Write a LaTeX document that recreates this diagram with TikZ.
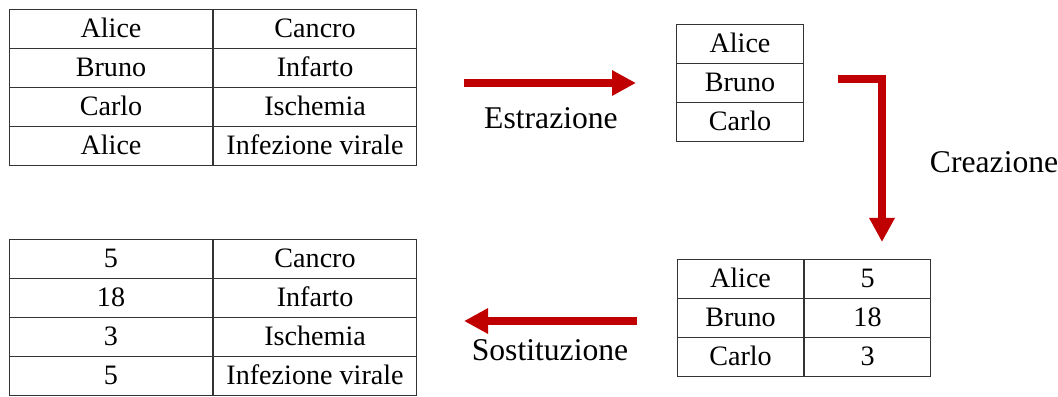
\documentclass[tikz,border=0pt]{standalone}
\usepackage{fontspec}
\setmainfont{Liberation Serif}
\usepackage{tikz}
\usetikzlibrary{arrows.meta, positioning}

\definecolor{rosso}{HTML}{C00000}

\begin{document}
\begin{tikzpicture}[x=0.025cm, y=-0.025cm,
        cella/.style={draw=black!80, line width=0.7pt, inner sep=0pt,
            minimum height=0.975cm, text height=0.5cm, text depth=0.09cm,
            font=\fontsize{20}{24}\selectfont},
        larga/.style={cella, minimum width=5.075cm},
        stretta/.style={cella, minimum width=3.15cm},
        freccia/.style={draw=rosso, line width=0.2cm,
            -{Triangle[length=0.6cm, width=0.6cm]}},
        etichetta/.style={font=\fontsize{22.5}{27}\selectfont}]
        \useasboundingbox (0,0) rectangle (1058,396);

        % Tabella originale
        \foreach \nome/\diagnosi [count=\i] in {Alice/Cancro, Bruno/Infarto, Carlo/Ischemia, Alice/Infezione virale} {
            \node[larga, anchor=north west] (orig\i) at (9,{9+39*(\i-1)}) {\nome};
            \node[larga, right=0pt of orig\i] (origd\i) {\diagnosi};
        }

        % Nomi estratti
        \foreach \nome [count=\i] in {Alice, Bruno, Carlo}
            \node[stretta, minimum width=3.175cm, anchor=north west] (nomi\i) at (676,{24+39*(\i-1)}) {\nome};

        % Tabella di corrispondenza
        \foreach \nome/\codice [count=\i] in {Alice/5, Bruno/18, Carlo/3} {
            \node[stretta, anchor=north west] (corr\i) at (677,{259+39*(\i-1)}) {\nome};
            \node[stretta, right=0pt of corr\i] (corrc\i) {\codice};
        }

        % Tabella pseudonimizzata
        \foreach \codice/\diagnosi [count=\i] in {5/Cancro, 18/Infarto, 3/Ischemia, 5/Infezione virale} {
            \node[larga, anchor=north west] (pseu\i) at (9,{239+39*(\i-1)}) {\codice};
            \node[larga, right=0pt of pseu\i] (pseud\i) {\diagnosi};
        }

        % Frecce
        \coordinate (estrA) at (464,83);
        \coordinate (estrB) at (636,83);
        \draw[freccia] (estrA) -- (estrB);
        \node[etichetta, anchor=base] (estr) at (551,128) {Estrazione};

        \coordinate (creaA) at (838,79);
        \coordinate (creaB) at (882,242);
        \draw[freccia] (creaA) -| (creaB);
        \node[etichetta, anchor=base west] (crea) at (925,172) {Creazione};

        \coordinate (sostA) at (637,321);
        \coordinate (sostB) at (464,321);
        \draw[freccia] (sostA) -- (sostB);
        \node[etichetta, anchor=base] (sost) at (550,360) {Sostituzione};
    \end{tikzpicture}
\end{document}
